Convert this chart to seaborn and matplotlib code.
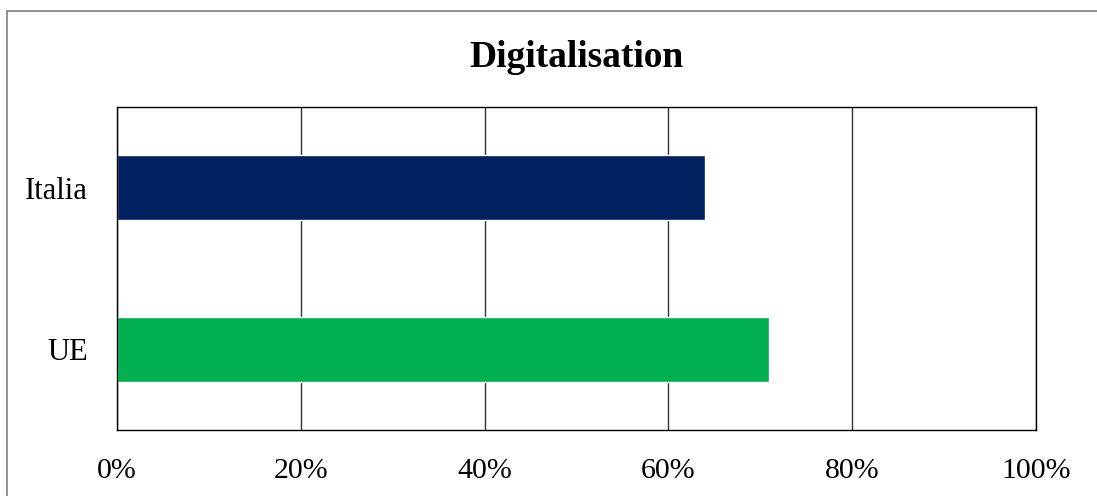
import matplotlib
matplotlib.use("Agg")
import matplotlib.pyplot as plt
import seaborn as sns
import pandas as pd
from matplotlib.lines import Line2D
from matplotlib.ticker import FuncFormatter

categories = ["Italia", "UE"]
values = [64, 71]
colors = ["#002060", "#00B050"]
x_ticks = [0, 20, 40, 60, 80, 100]
title = "Digitalisation"

sns.set_theme(style="white")
plt.rcParams["font.family"] = ["Liberation Serif", "DejaVu Serif"]

df = pd.DataFrame({"country": categories, "share": values})

fig = plt.figure(figsize=(10.97, 4.96), dpi=100)
ax = fig.add_axes([117 / 1097, 1 - 430 / 496, (1036 - 117) / 1097, (430 - 107) / 496])

sns.barplot(data=df, x="share", y="country", hue="country",
            palette=dict(zip(categories, colors)), width=0.4,
            legend=False, saturation=1, ax=ax)

ax.set_xlim(0, 100)
ax.set_ylim(1.5, -0.5)
ax.set_xticks(x_ticks)
ax.xaxis.set_major_formatter(FuncFormatter(lambda v, _: f"{v:.0f}%"))
ax.set_xlabel("")
ax.set_ylabel("")
ax.tick_params(axis="x", length=0, pad=20, labelsize=21.5, colors="black")
ax.tick_params(axis="y", length=0, pad=21, labelsize=22, colors="black")
ax.set_axisbelow(True)
ax.grid(axis="x", color="#333333", linewidth=1.0)
ax.grid(axis="y", visible=False)
for s in ax.spines.values():
    s.set_visible(True)
    s.set_color("black")
    s.set_linewidth(1.0)

ax.set_title(title, fontsize=27, fontweight="bold", pad=29, color="black")

# outer frame of the chart area
fig.add_artist(Line2D([7 / 1097, 7 / 1097], [0, 1 - 11 / 496],
                      transform=fig.transFigure, color="#7f7f7f", linewidth=1.2))
fig.add_artist(Line2D([7 / 1097, 1], [1 - 11 / 496, 1 - 11 / 496],
                      transform=fig.transFigure, color="#7f7f7f", linewidth=1.2))

fig.savefig("out.png", dpi=100)
